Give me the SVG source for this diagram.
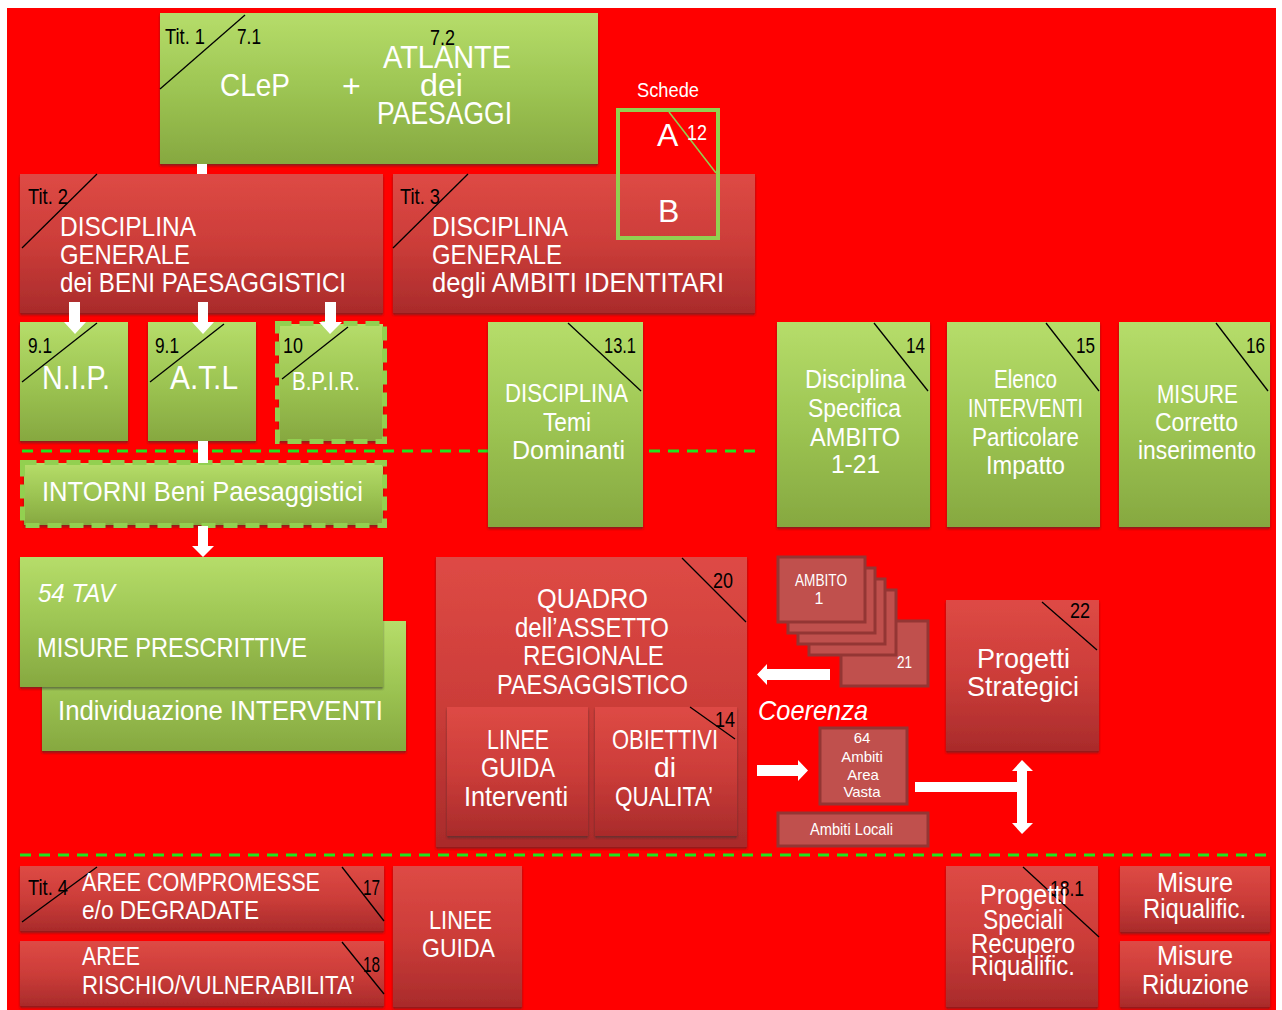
<svg xmlns="http://www.w3.org/2000/svg" width="1282" height="1010" viewBox="0 0 1282 1010">
<defs>
<linearGradient id="gG" x1="0" y1="0" x2="0" y2="1">
<stop offset="0" stop-color="#b6dd6a"/><stop offset="0.5" stop-color="#9dc553"/><stop offset="1" stop-color="#86a840"/>
</linearGradient>
<linearGradient id="gR" x1="0" y1="0" x2="0" y2="1">
<stop offset="0" stop-color="#de4a45"/><stop offset="0.5" stop-color="#cc3d39"/><stop offset="1" stop-color="#a92b2b"/>
</linearGradient>
<filter id="sh" x="-5%" y="-5%" width="110%" height="115%">
<feDropShadow dx="0" dy="2" stdDeviation="1.2" flood-color="#333" flood-opacity="0.55"/>
</filter>
<style>
text{font-family:"Liberation Sans",Arial,sans-serif;fill:#fff}
.k{fill:#000;font-size:22px}
.t32{font-size:32px}.t28{font-size:28px}.t26{font-size:26px}.t16{font-size:16px}.t15{font-size:15px}
.it{font-style:italic}
.g{fill:url(#gG);filter:url(#sh)}
.r{fill:url(#gR);filter:url(#sh)}
.c{fill:#c0504d;stroke:#943634;stroke-width:3}
.d{stroke:#000;stroke-width:1.3;fill:none}
.dash{stroke:#1ee61e;stroke-width:3;stroke-dasharray:11 8;fill:none}
.bd{stroke:#92d050;stroke-width:5;stroke-dasharray:14 8;fill:none}
.w{fill:#fff}
</style>
</defs>
<rect x="0" y="0" width="1282" height="1010" fill="#fff"/>
<rect x="7" y="8" width="1269" height="1002" fill="#ff0000"/>

<g id="lines">
<line class="dash" x1="22" y1="451" x2="763" y2="451"/>
<line class="dash" x1="20" y1="855" x2="1266" y2="855"/>
</g>

<g id="n-tit1">
<rect class="g" x="160" y="13" width="438" height="151"/>
<line class="d" x1="160" y1="89" x2="245" y2="15"/>
<text class="k" x="165" y="44" textLength="40" lengthAdjust="spacingAndGlyphs">Tit. 1</text>
<text class="k" x="237" y="44" textLength="24" lengthAdjust="spacingAndGlyphs">7.1</text>
<text class="k" x="430" y="45" textLength="25" lengthAdjust="spacingAndGlyphs">7.2</text>
<text class="t32" x="220" y="96" textLength="70" lengthAdjust="spacingAndGlyphs">CLeP</text>
<text class="t32" x="342" y="97">+</text>
<text class="t32" x="383" y="68" textLength="128" lengthAdjust="spacingAndGlyphs">ATLANTE</text>
<text class="t32" x="420" y="96" textLength="43" lengthAdjust="spacingAndGlyphs">dei</text>
<text class="t32" x="377" y="124" textLength="135" lengthAdjust="spacingAndGlyphs">PAESAGGI</text>
</g>

<g id="n-tit2">
<rect class="r" x="20" y="174" width="363" height="139"/>
<line class="d" x1="22" y1="248" x2="97" y2="174"/>
<text class="k" x="28" y="204" textLength="40" lengthAdjust="spacingAndGlyphs">Tit. 2</text>
<text class="t28" x="60" y="236" textLength="136" lengthAdjust="spacingAndGlyphs">DISCIPLINA</text>
<text class="t28" x="60" y="264" textLength="130" lengthAdjust="spacingAndGlyphs">GENERALE</text>
<text class="t28" x="60" y="292" textLength="286" lengthAdjust="spacingAndGlyphs">dei BENI PAESAGGISTICI</text>
</g>

<g id="n-tit3">
<rect class="r" x="393" y="174" width="362" height="139"/>
<line class="d" x1="393" y1="248" x2="468" y2="174"/>
<text class="k" x="400" y="204" textLength="40" lengthAdjust="spacingAndGlyphs">Tit. 3</text>
<text class="t28" x="432" y="236" textLength="136" lengthAdjust="spacingAndGlyphs">DISCIPLINA</text>
<text class="t28" x="432" y="264" textLength="130" lengthAdjust="spacingAndGlyphs">GENERALE</text>
<text class="t28" x="432" y="292" textLength="292" lengthAdjust="spacingAndGlyphs">degli AMBITI IDENTITARI</text>
</g>

<g id="n-schede">
<text x="637" y="97" font-size="21" textLength="62" lengthAdjust="spacingAndGlyphs">Schede</text>
<rect x="618" y="110" width="100" height="128" fill="none" stroke="#92d050" stroke-width="4"/>
<line x1="669" y1="112" x2="716" y2="173" stroke="#92d050" stroke-width="1.5"/>
<text class="t32" x="657" y="146">A</text>
<text x="687" y="140" font-size="22" textLength="20" lengthAdjust="spacingAndGlyphs">12</text>
<text class="t32" x="658" y="222">B</text>
</g>

<g id="n-nip">
<rect class="g" x="20" y="322" width="108" height="119"/>
<line class="d" x1="22" y1="382" x2="97" y2="323"/>
<text class="k" x="28" y="353" textLength="24" lengthAdjust="spacingAndGlyphs">9.1</text>
<text x="42" y="389" font-size="34" textLength="68" lengthAdjust="spacingAndGlyphs">N.I.P.</text>
</g>
<g id="n-atl">
<rect class="g" x="148" y="322" width="108" height="119"/>
<line class="d" x1="150" y1="382" x2="224" y2="324"/>
<text class="k" x="155" y="353" textLength="24" lengthAdjust="spacingAndGlyphs">9.1</text>
<text x="170" y="389" font-size="34" textLength="68" lengthAdjust="spacingAndGlyphs">A.T.L</text>
</g>
<g id="n-bpir">
<rect class="g" x="279" y="324" width="104" height="117"/>
<rect class="bd" x="277.5" y="323.5" width="107" height="118"/>
<line class="d" x1="282" y1="379" x2="348" y2="327"/>
<text class="k" x="283" y="353" textLength="20" lengthAdjust="spacingAndGlyphs">10</text>
<text class="t26" x="292" y="390" textLength="68" lengthAdjust="spacingAndGlyphs">B.P.I.R.</text>
</g>

<g id="n-intorni">
<rect class="g" x="24" y="463" width="359" height="62"/>
<rect class="bd" x="22.5" y="462.5" width="362" height="63"/>
<text class="t28" x="42" y="501" textLength="321" lengthAdjust="spacingAndGlyphs">INTORNI Beni Paesaggistici</text>
</g>

<g id="n-131">
<rect class="g" x="488" y="322" width="155" height="205"/>
<line class="d" x1="568" y1="323" x2="641" y2="391"/>
<text class="k" x="604" y="353" textLength="32" lengthAdjust="spacingAndGlyphs">13.1</text>
<text class="t26" x="505" y="402" textLength="123" lengthAdjust="spacingAndGlyphs">DISCIPLINA</text>
<text class="t26" x="543" y="431" textLength="48" lengthAdjust="spacingAndGlyphs">Temi</text>
<text class="t26" x="512" y="459" textLength="113" lengthAdjust="spacingAndGlyphs">Dominanti</text>
</g>
<g id="n-14">
<rect class="g" x="777" y="322" width="153" height="205"/>
<line class="d" x1="874" y1="323" x2="928" y2="391"/>
<text class="k" x="906" y="353" textLength="19" lengthAdjust="spacingAndGlyphs">14</text>
<text class="t26" x="805" y="388" textLength="101" lengthAdjust="spacingAndGlyphs">Disciplina</text>
<text class="t26" x="808" y="417" textLength="93" lengthAdjust="spacingAndGlyphs">Specifica</text>
<text class="t26" x="810" y="446" textLength="90" lengthAdjust="spacingAndGlyphs">AMBITO</text>
<text class="t26" x="831" y="473" textLength="49" lengthAdjust="spacingAndGlyphs">1-21</text>
</g>
<g id="n-15">
<rect class="g" x="947" y="322" width="153" height="205"/>
<line class="d" x1="1046" y1="323" x2="1099" y2="391"/>
<text class="k" x="1076" y="353" textLength="19" lengthAdjust="spacingAndGlyphs">15</text>
<text class="t26" x="994" y="388" textLength="63" lengthAdjust="spacingAndGlyphs">Elenco</text>
<text class="t26" x="968" y="417" textLength="115" lengthAdjust="spacingAndGlyphs">INTERVENTI</text>
<text class="t26" x="972" y="446" textLength="107" lengthAdjust="spacingAndGlyphs">Particolare</text>
<text class="t26" x="986" y="474" textLength="79" lengthAdjust="spacingAndGlyphs">Impatto</text>
</g>
<g id="n-16">
<rect class="g" x="1119" y="322" width="151" height="205"/>
<line class="d" x1="1216" y1="323" x2="1268" y2="391"/>
<text class="k" x="1246" y="353" textLength="19" lengthAdjust="spacingAndGlyphs">16</text>
<text class="t26" x="1157" y="403" textLength="81" lengthAdjust="spacingAndGlyphs">MISURE</text>
<text class="t26" x="1155" y="431" textLength="83" lengthAdjust="spacingAndGlyphs">Corretto</text>
<text class="t26" x="1138" y="459" textLength="118" lengthAdjust="spacingAndGlyphs">inserimento</text>
</g>

<g id="n-interventi">
<rect class="g" x="42" y="621" width="364" height="130"/>
<text class="t28" x="58" y="720" textLength="325" lengthAdjust="spacingAndGlyphs">Individuazione INTERVENTI</text>
</g>
<g id="n-54tav">
<rect class="g" x="20" y="557" width="363" height="130"/>
<text class="t26 it" x="38" y="602" textLength="77" lengthAdjust="spacingAndGlyphs">54 TAV</text>
<text class="t28" x="37" y="657" textLength="270" lengthAdjust="spacingAndGlyphs">MISURE PRESCRITTIVE</text>
</g>

<g id="n-quadro">
<rect class="r" x="436" y="557" width="311" height="290"/>
<line class="d" x1="682" y1="558" x2="746" y2="622"/>
<text class="k" x="713" y="588" textLength="20" lengthAdjust="spacingAndGlyphs">20</text>
<text class="t28" x="537" y="608" textLength="111" lengthAdjust="spacingAndGlyphs">QUADRO</text>
<text class="t28" x="515" y="637" textLength="154" lengthAdjust="spacingAndGlyphs">dell’ASSETTO</text>
<text class="t28" x="523" y="665" textLength="141" lengthAdjust="spacingAndGlyphs">REGIONALE</text>
<text class="t28" x="497" y="694" textLength="191" lengthAdjust="spacingAndGlyphs">PAESAGGISTICO</text>
</g>
<g id="n-lineeguida">
<rect class="r" x="447" y="707" width="141" height="129"/>
<text class="t28" x="487" y="749" textLength="62" lengthAdjust="spacingAndGlyphs">LINEE</text>
<text class="t28" x="481" y="777" textLength="74" lengthAdjust="spacingAndGlyphs">GUIDA</text>
<text class="t28" x="464" y="806" textLength="104" lengthAdjust="spacingAndGlyphs">Interventi</text>
</g>
<g id="n-obiettivi">
<rect class="r" x="595" y="707" width="142" height="129"/>
<line class="d" x1="690" y1="707" x2="735" y2="739"/>
<text class="k" x="715" y="727" textLength="20" lengthAdjust="spacingAndGlyphs">14</text>
<text class="t28" x="612" y="749" textLength="106" lengthAdjust="spacingAndGlyphs">OBIETTIVI</text>
<text class="t28" x="654" y="777" textLength="22" lengthAdjust="spacingAndGlyphs">di</text>
<text class="t28" x="615" y="806" textLength="98" lengthAdjust="spacingAndGlyphs">QUALITA’</text>
</g>

<g id="n-ambiti">
<rect class="c" x="841" y="621" width="87" height="65"/>
<rect class="c" x="809" y="590" width="87" height="65"/>
<rect class="c" x="798" y="579" width="87" height="65"/>
<rect class="c" x="788" y="568" width="87" height="65"/>
<rect class="c" x="778" y="557" width="87" height="65"/>
<text class="t16" x="795" y="586" textLength="52" lengthAdjust="spacingAndGlyphs">AMBITO</text>
<text class="t16" x="819" y="604" text-anchor="middle">1</text>
<text class="t16" x="897" y="668" textLength="15" lengthAdjust="spacingAndGlyphs">21</text>
</g>

<g id="n-coerenza">
<text class="t28 it" x="758" y="720" textLength="110" lengthAdjust="spacingAndGlyphs">Coerenza</text>
</g>

<g id="n-64">
<rect class="c" x="820" y="728" width="87" height="76"/>
<text class="t15" x="862" y="743" text-anchor="middle">64</text>
<text class="t15" x="862" y="762" text-anchor="middle">Ambiti</text>
<text class="t15" x="863" y="780" text-anchor="middle">Area</text>
<text class="t15" x="862" y="797" text-anchor="middle">Vasta</text>
</g>
<g id="n-locali">
<rect class="c" x="778" y="813" width="150" height="33"/>
<text class="t16" x="810" y="835" textLength="83" lengthAdjust="spacingAndGlyphs">Ambiti Locali</text>
</g>

<g id="n-strategici">
<rect class="r" x="946" y="600" width="153" height="151"/>
<line class="d" x1="1042" y1="602" x2="1097" y2="650"/>
<text class="k" x="1070" y="618" textLength="20" lengthAdjust="spacingAndGlyphs">22</text>
<text class="t28" x="977" y="668" textLength="93" lengthAdjust="spacingAndGlyphs">Progetti</text>
<text class="t28" x="967" y="696" textLength="112" lengthAdjust="spacingAndGlyphs">Strategici</text>
</g>

<g id="n-compromesse">
<rect class="r" x="20" y="866" width="364" height="65"/>
<line class="d" x1="22" y1="922" x2="97" y2="867"/>
<line class="d" x1="342" y1="867" x2="384" y2="921"/>
<text class="k" x="28" y="895" textLength="40" lengthAdjust="spacingAndGlyphs">Tit. 4</text>
<text class="t26" x="82" y="891" textLength="238" lengthAdjust="spacingAndGlyphs">AREE COMPROMESSE</text>
<text class="t26" x="82" y="919" textLength="177" lengthAdjust="spacingAndGlyphs">e/o DEGRADATE</text>
<text class="k" x="363" y="895" textLength="17" lengthAdjust="spacingAndGlyphs">17</text>
</g>
<g id="n-rischio">
<rect class="r" x="20" y="941" width="364" height="65"/>
<line class="d" x1="342" y1="942" x2="384" y2="994"/>
<text class="t26" x="82" y="965" textLength="58" lengthAdjust="spacingAndGlyphs">AREE</text>
<text class="t26" x="82" y="994" textLength="273" lengthAdjust="spacingAndGlyphs">RISCHIO/VULNERABILITA’</text>
<text class="k" x="363" y="972" textLength="17" lengthAdjust="spacingAndGlyphs">18</text>
</g>
<g id="n-lineeguida2">
<rect class="r" x="393" y="866" width="129" height="141"/>
<text class="t26" x="429" y="929" textLength="63" lengthAdjust="spacingAndGlyphs">LINEE</text>
<text class="t26" x="422" y="957" textLength="73" lengthAdjust="spacingAndGlyphs">GUIDA</text>
</g>
<g id="n-speciali">
<rect class="r" x="946" y="866" width="152" height="141"/>
<line class="d" x1="1023" y1="867" x2="1099" y2="937"/>
<text class="k" x="1050" y="896" textLength="34" lengthAdjust="spacingAndGlyphs">18.1</text>
<text x="980" y="904" font-size="27" textLength="87" lengthAdjust="spacingAndGlyphs">Progetti</text>
<text x="983" y="929" font-size="27" textLength="80" lengthAdjust="spacingAndGlyphs">Speciali</text>
<text x="971" y="953" font-size="27" textLength="104" lengthAdjust="spacingAndGlyphs">Recupero</text>
<text x="971" y="975" font-size="27" textLength="104" lengthAdjust="spacingAndGlyphs">Riqualific.</text>
</g>
<g id="n-misriq">
<rect class="r" x="1120" y="866" width="150" height="66"/>
<text class="t28" x="1157" y="892" textLength="76" lengthAdjust="spacingAndGlyphs">Misure</text>
<text class="t28" x="1143" y="918" textLength="103" lengthAdjust="spacingAndGlyphs">Riqualific.</text>
</g>
<g id="n-misrid">
<rect class="r" x="1120" y="941" width="150" height="66"/>
<text class="t28" x="1157" y="965" textLength="76" lengthAdjust="spacingAndGlyphs">Misure</text>
<text class="t28" x="1142" y="994" textLength="107" lengthAdjust="spacingAndGlyphs">Riduzione</text>
</g>

<g id="connectors" class="w">
<rect x="197" y="164" width="10" height="10"/>
<polygon points="69,302 80,302 80,322 86,322 75,334 64,322 69,322"/>
<polygon points="198,302 208,302 208,322 214,322 203,334 192,322 198,322"/>
<polygon points="325,302 336,302 336,322 342,322 330,334 319,322 325,322"/>
<rect x="198" y="441" width="10" height="22"/>
<polygon points="198,526 208,526 208,546 214,546 203,557 192,546 198,546"/>
<polygon points="830,669 767,669 767,664 757,674.5 767,685 767,680 830,680"/>
<polygon points="757,765 798,765 798,760 808,770.5 798,781 798,776 757,776"/>
<rect x="915" y="782" width="112" height="10"/>
<polygon points="1022,760 1033,771 1027,771 1027,823 1033,823 1022,834 1012,823 1017,823 1017,771 1012,771"/>
</g>
</svg>
